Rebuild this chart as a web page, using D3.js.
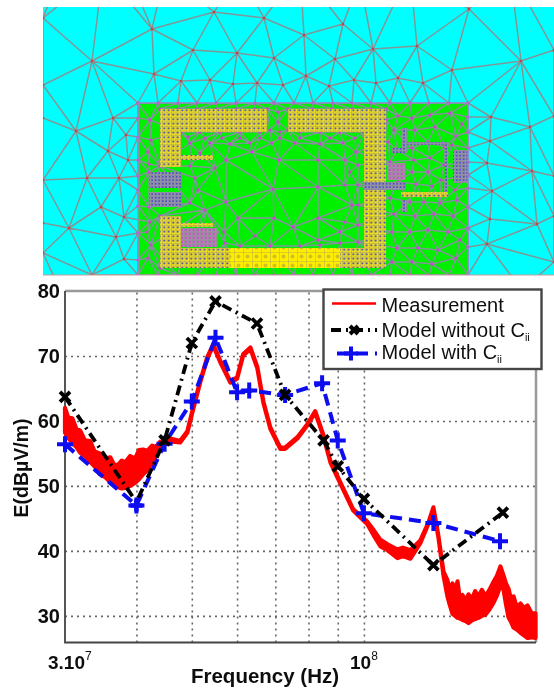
<!DOCTYPE html>
<html>
<head>
<meta charset="utf-8">
<script src="https://cdn.jsdelivr.net/npm/d3@7"></script>
<style>
  html, body { margin: 0; padding: 0; background: #fff; }
  svg { display: block; }
  text { font-family: "Liberation Sans", Arial, sans-serif; fill: #111; }
</style>
</head>
<body>
<div id="chart"></div>
<script>
// ---- chart data (frequency in MHz, field in dBuV/m)
const measFreq = [30,30.4,30.9,31.4,31.9,32.5,33.2,33.8,34.5,35.2,36,36.6,37.2,37.7,38.2,39,39.8,40.4,41.1,41.8,42.6,43.3,44,44.7,45.3,
  47.7,49.1,50.3,51.7,53.2,54.5,56.1,58.4,60,61.5,63.3,65.1,66.7,68.6,71.4,72.8,76.5,79.6,82.2,84.9,87.4,90.9,95.8,101.4,
  104,106.9,110,114.5,117,120.6,125.5,129.7,132.3,135,
  137.8,140,141.4,142.9,144.4,145.8,147.2,148.7,150.5,152.4,154.5,156.5,158.6,160.8,163.2,165.8,168.5,171,173.3,175.5,177.2,179,181,182.7,185,187.9,190.5,193.3,196.5,199.6];
const measTop = [62,60.5,60.4,58.8,58.5,57,56.9,55.3,55,54.2,54.4,53.2,53.3,53.9,53.6,54.6,54.2,55.5,55.6,55.4,56.2,56,56.8,56.6,57.4,
  56.9,58.4,62.1,66.1,69.8,71.8,69.2,66.1,66.7,70.3,71.3,68.3,63,59,55.9,55.9,57.5,59.5,61.5,57.9,53.8,50.6,46.4,44.5,
  43.2,41.7,41,40.2,40.5,40.1,41.6,44.4,46.7,42.3,
  36.8,35.5,33.8,35,33.6,35.3,32.6,33.2,32.4,33.3,32.6,33.8,33,34,33,34,35.2,36.2,37.6,36.2,35,34.2,32.4,33,31.4,31.9,31.2,31.6,30.4,30.4];
const measBottom = [58.2,57.4,56.6,56,55.1,54.6,53.7,53,51.8,51.4,50.6,50.3,49.8,49.6,49.7,50,50.5,51,51.8,52.4,53.5,54.6,55.6,56.2,56.9,
  56.7,58.2,61.9,65.9,69.6,71.6,69,65.9,66.5,70.1,71.1,68.1,62.8,58.8,55.7,55.7,57.3,59.3,61.3,57.7,53.6,50.4,46.2,44.1,
  42.4,40.7,40.1,38.9,39.2,38.8,41.2,44.2,46.5,42.1,
  36.2,33,31.6,30.3,30,29.7,29.6,29.4,29.2,28.9,29.3,29.5,29.7,30,30.2,31,32,33.2,34.7,34,31.8,29.8,29,28.2,27.9,27.4,27,26.6,26.7,26.6];

const blackFreq = [30,40,44.8,50,55,65,72.8,85,90,100,132.3,175];
const blackVals = [63.7,47.5,57,72,78.4,75,64,57,53,48,37.8,45.9];
const blueFreq = [30,40,44.8,50,55,60,63,72.8,84.5,90,100,132.3,173];
const blueVals = [56.4,47,56.5,63,72.8,64.4,64.7,64,65.8,57,45.8,44.3,41.5];

const gridFreq = [40,50,60,70,80,90,100];
const gridDb = [30,40,50,60,70];
const yLabels = [30,40,50,60,70,80];
const legendNames = ["Measurement","Model without C","Model with C"];

// ---- mesh nodes, in mesh units
const airNodes = [[92,61],[152,29],[214,12],[264,18],[193,50],[237,53],[274,58],[154,74],[181,81],[210,80],[233,84],[257,83],[283,85],
  [113,118],[76,131],[126,135],[108,151],[128,160],[87,178],[119,178],[101,207],[124,217],[69,228],[116,237],[124,259],[92,275],
  [304,35],[343,24],[469,9],[373,49],[417,46],[335,59],[521,61],[452,70],[306,76],[329,86],[354,80],[376,83],[398,78],[423,83],
  [491,117],[530,127],[490,141],[487,163],[532,171],[492,191],[490,219],[537,224],[487,244],
  [43,18],[43,85],[43,118],[43,180],[43,223],[43,253],[554,116],[554,176],[554,216],[554,50],[554,262],
  [103,-30],[60,-25],[125,-35],[165,-28],[240,-25],[300,-30],[360,-20],[410,-30],[455,-25],[510,-30],[470,300],[522,290],[100,300],[60,290]];
const boardNodes = [[138,103],[158,103],[178,103],[197,103],[216,103],[236,103],[255,103],[274,103],[294,103],[313,103],[333,103],[352,103],[371,103],[390,103],[410,103],[429,103],[449,103],[468,103],
  [138,118],[138,137],[138,160],[138,176],[138,190],[138,206],[138,233],[138,260],[138,275],
  [468,117],[468,132],[468,148],[468,162],[468,175],[468,188],[468,207],[468,228],[468,247],[468,275],
  [158,275],[177,275],[197,275],[216,275],[236,275],[255,275],[274,275],[294,275],[313,275],[333,275],[352,275],[371,275],[390,275],[410,275],[429,275],[449,275],
  [160,109],[178,109],[197,109],[216,109],[236,109],[255,109],[267,109],[288,109],[313,109],[332,109],[352,109],[371,109],[386,109],
  [150,120],[151,140],[160,166],[149,172],[149,207],[160,216],[150,222],[151,245],[160,268],[148,258],[148,152],[149,164],[147,232],
  [278,112],[278,122],[270,130],[288,130],
  [181,132],[200,132],[220,132],[240,132],[260,132],[280,132],[300,132],[320,132],[340,132],[364,132],
  [188,137],[205,138],[222,138],[240,138],[260,138],[280,138],[300,138],[330,138],[355,138],
  [190,143],[210,143],[230,144],[250,143],[272,143],[295,143],[320,144],[343,143],[356,152],
  [226,160],[279,160],[318,160],[345,160],[200,153],[252,152],[215,168],[190,166],[195,178],[198,190],[190,203],[205,210],
  [358,165],[358,185],[358,205],[358,225],[358,242],[340,243],[320,245],[225,243],
  [226,202],[273,189],[318,187],[318,218],[345,185],[350,172],[352,205],[340,232],[238,218],[274,218],[293,227],[255,236],[224,232],[318,240],[345,222],[300,246],[270,246],[240,246],
  [386,120],[398,116],[412,118],[430,115],[450,113],[462,124],[394,130],[415,130],[435,127],[456,136],[388,142],[397,150],[412,148],[428,142],[445,147],
  [390,162],[414,160],[430,158],[444,165],[452,145],[412,172],[428,172],[441,180],[398,182],[416,184],[432,186],[455,190],
  [390,198],[410,202],[424,202],[440,203],[457,200],[394,214],[415,216],[434,214],[453,216],[392,232],[410,232],[428,230],[448,232],[460,240],[397,248],[418,248],[438,250],[456,258],[392,262],[412,262],[432,264]];

// ---- scales
const width = 554, height = 688;
const x = d3.scaleLog().domain([30, 200]).range([65, 536]);
const y = d3.scaleLinear().domain([25.9, 80]).range([642.5, 291]);
const meshX = d3.scaleLinear().domain([43, 554]).range([43, 554]);
const meshY = d3.scaleLinear().domain([7, 275]).range([7, 275]);

const svg = d3.select("#chart").append("svg").attr("width", width).attr("height", height);
const defs = svg.append("defs");

function softFilter(id, dev) {
  defs.append("filter").attr("id", id).attr("filterUnits", "userSpaceOnUse")
    .attr("x", 0).attr("y", 0).attr("width", width).attr("height", height)
    .append("feGaussianBlur").attr("stdDeviation", dev);
}
softFilter("soft", 0.6);
softFilter("softMesh", 0.35);

// ring textures
function texture(id, size, bg, dots, lines) {
  const p = defs.append("pattern").attr("id", id).attr("patternUnits", "userSpaceOnUse")
    .attr("width", size).attr("height", size);
  p.append("rect").attr("width", size).attr("height", size).attr("fill", bg);
  p.append("path").attr("d", `M0,0H${size}M0,0V${size}`).attr("stroke", lines).attr("stroke-width", 0.7);
  p.append("circle").attr("cx", size / 2).attr("cy", size / 2).attr("r", size / 4.5).attr("fill", dots);
}
texture("ringDense", 4.5, "#f0e020", "#2c2cd0", "#8c8c70");
texture("ringBright", 9, "#ffee00", "#d0c020", "#90906a");
texture("ringPurple", 4, "#a88aa8", "#d040d0", "#8a8a90");
texture("ringBlue", 3.5, "#9898a8", "#2c2cd0", "#7a7a90");

// ---- top panel
const panel = svg.append("g").attr("filter", "url(#softMesh)");
defs.append("clipPath").attr("id", "panelClip").append("rect")
  .attr("x", meshX(43)).attr("y", meshY(7)).attr("width", meshX(554) - meshX(43)).attr("height", meshY(275) - meshY(7));

panel.append("rect").attr("x", meshX(43)).attr("y", meshY(7)).attr("width", meshX(554) - meshX(43)).attr("height", meshY(275) - meshY(7)).attr("fill", "#00ffff");
panel.append("rect").attr("x", meshX(138)).attr("y", meshY(103)).attr("width", meshX(468) - meshX(138)).attr("height", meshY(275) - meshY(103)).attr("fill", "#00f000");

const allNodes = airNodes.concat(boardNodes);
const delaunay = d3.Delaunay.from(allNodes, d => meshX(d[0]), d => meshY(d[1]));
const meshG = panel.append("g").attr("clip-path", "url(#panelClip)");
meshG.append("path").attr("d", delaunay.render()).attr("fill", "none").attr("stroke", "#829698").attr("stroke-width", 1.5);

meshG.selectAll("circle.air").data(airNodes).join("circle").attr("class", "air")
  .attr("cx", d => meshX(d[0])).attr("cy", d => meshY(d[1])).attr("r", 1.3).attr("fill", "#c8404c");
meshG.selectAll("circle.board").data(boardNodes).join("circle").attr("class", "board")
  .attr("cx", d => meshX(d[0])).attr("cy", d => meshY(d[1])).attr("r", 1.6).attr("fill", "#d040d0");

// board metal, [x0, y0, x1, y1, texture]
const metal = [
  [160,109,267,132,"ringDense"],[288,109,386,132,"ringDense"],
  [160,109,181,167,"ringDense"],[160,216,181,268,"ringDense"],
  [160,248,386,268,"ringDense"],[230,248,340,268,"ringBright"],
  [364,109,386,182,"ringDense"],[364,190,386,268,"ringDense"],[364,182,405,190,"ringBlue"],
  [149,172,181,188,"ringBlue"],[149,192,181,207,"ringBlue"],
  [181,155,213,160,"ringDense"],[181,223,213,227,"ringDense"],[181,228,217,247,"ringPurple"],
  [402,128,407,153,"ringBlue"],[392,148,407,153,"ringBlue"],[405,142,448,145,"ringBlue"],[445,142,448,197,"ringBlue"],
  [401,192,448,197,"ringDense"],[443,180,448,192,"ringBlue"],[387,163,405,180,"ringPurple"],
  [453,150,468,183,"ringBlue"],[402,200,407,212,"ringBlue"]
];
panel.selectAll("rect.metal").data(metal).join("rect").attr("class", "metal")
  .attr("x", d => meshX(d[0])).attr("y", d => meshY(d[1]))
  .attr("width", d => meshX(d[2]) - meshX(d[0])).attr("height", d => meshY(d[3]) - meshY(d[1]))
  .attr("fill", d => `url(#${d[4]})`);

panel.append("path").attr("d", `M${meshX(138)},${meshY(275)}V${meshY(103)}H${meshX(468)}V${meshY(275)}`)
  .attr("fill", "none").attr("stroke", "#a080e0").attr("stroke-width", 1.2);
panel.append("line").attr("x1", meshX(43)).attr("x2", meshX(554)).attr("y1", meshY(275)).attr("y2", meshY(275))
  .attr("stroke", "#c89a9a").attr("stroke-width", 1.2);

// ---- plot
const plot = svg.append("g").attr("filter", "url(#soft)");
const plotLeft = x.range()[0], plotRight = x.range()[1], plotTop = y.range()[1], plotBottom = y.range()[0];

plot.append("g").attr("transform", `translate(0,${plotBottom})`)
  .call(d3.axisBottom(x).tickValues(gridFreq).tickSize(plotTop - plotBottom).tickFormat(""))
  .call(g => g.select(".domain").remove())
  .call(g => g.selectAll("line").attr("stroke", "#666").attr("stroke-width", 1.6).attr("stroke-dasharray", "2,4"));

plot.append("g").attr("transform", `translate(${plotLeft},0)`)
  .call(d3.axisLeft(y).tickValues(gridDb).tickSize(plotLeft - plotRight).tickFormat(""))
  .call(g => g.select(".domain").remove())
  .call(g => g.selectAll("line").attr("stroke", "#666").attr("stroke-width", 1.6).attr("stroke-dasharray", "2,4"));

// frame
plot.append("path").attr("d", `M${plotLeft},${plotTop}H${plotRight}V${plotBottom}`).attr("fill", "none").attr("stroke", "#999").attr("stroke-width", 2.5);
plot.append("path").attr("d", `M${plotLeft},${plotTop}V${plotBottom}H${plotRight}`).attr("fill", "none").attr("stroke", "#444").attr("stroke-width", 1.8);

// y labels from the axis generator
plot.append("g").attr("transform", `translate(${plotLeft - 5},0)`)
  .call(d3.axisLeft(y).tickValues(yLabels).tickSize(0))
  .call(g => g.select(".domain").remove())
  .call(g => g.selectAll("text").attr("x", 0).attr("dy", "0.34em").attr("font-size", 20).attr("font-weight", "bold")
    .style("font-family", '"Liberation Sans", Arial, sans-serif'));

// measurement band
const measurement = measFreq.map((f, i) => ({ f, hi: measTop[i], lo: measBottom[i] }));
plot.append("path").datum(measurement)
  .attr("d", d3.area().x(d => x(d.f)).y0(d => y(d.lo)).y1(d => y(d.hi)))
  .attr("fill", "#ff0000").attr("stroke", "#ff0000").attr("stroke-width", 4.2).attr("stroke-linejoin", "round");

const line = d3.line().x(d => x(d.f)).y(d => y(d.v));
const blue = blueFreq.map((f, i) => ({ f, v: blueVals[i] }));
const black = blackFreq.map((f, i) => ({ f, v: blackVals[i] }));

const plusMark = s => `M${-s},0H${s}M0,${-s}V${s}`;
const crossMark = s => `M${-s},${-s}L${s},${s}M${-s},${s}L${s},${-s}`;

plot.append("path").datum(blue).attr("d", line).attr("fill", "none")
  .attr("stroke", "#0a0af0").attr("stroke-width", 4).attr("stroke-dasharray", "12,7");
plot.selectAll("path.bm").data(blue).join("path").attr("class", "bm")
  .attr("transform", d => `translate(${x(d.f)},${y(d.v)})`)
  .attr("d", plusMark(8)).attr("stroke", "#0a0af0").attr("stroke-width", 4);

plot.append("path").datum(black).attr("d", line).attr("fill", "none")
  .attr("stroke", "#000").attr("stroke-width", 3.8).attr("stroke-dasharray", "10,5,2,5");
// the 40 MHz marker sits under the blue one in the original
plot.selectAll("path.km").data(black.filter(d => d.f !== 40)).join("path").attr("class", "km")
  .attr("transform", d => `translate(${x(d.f)},${y(d.v)})`)
  .attr("d", crossMark(5)).attr("stroke", "#000").attr("stroke-width", 3.8);
plot.append("path").attr("transform", `translate(${x(40)},${y(47)})`)
  .attr("d", plusMark(6)).attr("stroke", "#0a0af0").attr("stroke-width", 4.5);

// x tick labels
function powerLabel(px, prefix, power) {
  const t = plot.append("text").attr("x", px).attr("y", 669).attr("font-size", 19).attr("font-weight", "bold");
  t.append("tspan").text(prefix);
  t.append("tspan").attr("font-size", 12).attr("dy", -9).attr("font-weight", "normal").text(power);
}
powerLabel(48, "3.10", "7");
powerLabel(350, "10", "8");

plot.append("text").attr("x", 265).attr("y", 683).attr("text-anchor", "middle")
  .attr("font-size", 20.5).attr("font-weight", "bold").text("Frequency (Hz)");
plot.append("text").attr("transform", "translate(28,468) rotate(-90)").attr("text-anchor", "middle")
  .attr("font-size", 19.5).attr("font-weight", "bold").text("E(dBµV/m)");

// legend
const legend = plot.append("g");
legend.append("rect").attr("x", 323.5).attr("y", 289.5).attr("width", 218).attr("height", 79.5)
  .attr("fill", "#fff").attr("stroke", "#444").attr("stroke-width", 2.4);
legend.append("line").attr("x1", 332).attr("x2", 376).attr("y1", 303.5).attr("y2", 303.5).attr("stroke", "#ff0000").attr("stroke-width", 2.4);
legend.append("line").attr("x1", 331).attr("x2", 377).attr("y1", 330).attr("y2", 330).attr("stroke", "#000").attr("stroke-width", 3.8).attr("stroke-dasharray", "10,5,2,5");
legend.append("path").attr("transform", "translate(354,330)").attr("d", crossMark(4)).attr("stroke", "#000").attr("stroke-width", 4);
legend.append("line").attr("x1", 337).attr("x2", 377).attr("y1", 353.5).attr("y2", 353.5).attr("stroke", "#0a0af0").attr("stroke-width", 4).attr("stroke-dasharray", "12,7");
legend.append("path").attr("transform", "translate(351,353.5)").attr("d", plusMark(7)).attr("stroke", "#0a0af0").attr("stroke-width", 4);

const legendBase = [311.5, 336.5, 359];
legendNames.forEach((name, i) => {
  const t = legend.append("text").attr("x", 381.5).attr("y", legendBase[i]).attr("font-size", 20).text(name);
  if (i > 0) t.append("tspan").attr("font-size", 11).attr("dy", 4).text("ii");
});
</script>
</body>
</html>
